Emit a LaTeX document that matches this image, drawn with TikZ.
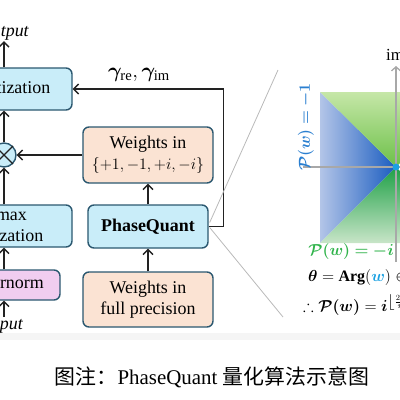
\RequirePackage{fix-cm}
\documentclass[tikz,border=0pt]{standalone}
\usepackage{amsmath,amssymb}
\usepackage{bm}
\usepackage{fontspec}
\setmainfont{Liberation Serif}
\newfontfamily\cjk{Noto Sans CJK SC}
\usetikzlibrary{arrows.meta,calc}
\definecolor{bdr}{HTML}{2B5870}
\definecolor{lblue}{HTML}{C9EDF9}
\definecolor{lorange}{HTML}{FBE3D3}
\definecolor{lpink}{HTML}{F1CDF0}
\definecolor{arrc}{HTML}{222222}
\definecolor{pblue}{HTML}{2A7FD0}
\definecolor{pgreen}{HTML}{2FB34A}
\definecolor{wblue}{HTML}{1BA1E2}
\definecolor{blA}{HTML}{B3C5E8}
\definecolor{blB}{HTML}{1A5CC0}
\definecolor{gA}{HTML}{C6E7A8}
\definecolor{gB}{HTML}{6CC048}
\definecolor{gC}{HTML}{1EA046}
\definecolor{gD}{HTML}{C8E5C8}
\definecolor{axc}{HTML}{A8A8A8}
\newcommand\boxfont{\fontsize{18}{21}\selectfont}
\newcommand\lblfont{\fontsize{16}{19}\selectfont}
\begin{document}
\begin{tikzpicture}[x=1bp,y=-1bp,
  box/.style={draw=bdr, line width=1.4bp, rounded corners=6bp, align=center, inner sep=0pt, font=\boxfont},
  bluebox/.style={box, fill=lblue},
  orbox/.style={box, fill=lorange},
  pinkbox/.style={box, fill=lpink},
  arr/.style={draw=arrc, line width=1.4bp, -{Straight Barb[length=5bp,width=10bp,line width=1.4bp]}},
  zoomline/.style={draw=axc!80, line width=0.8bp},
  axisline/.style={draw=axc, line width=1.5bp},
  lbl/.style={inner sep=1bp, font=\lblfont}]
\useasboundingbox (0,0) rectangle (400,400);
\fill[black!4] (0,333) rectangle (400,340);
% left column
\node[bluebox, minimum width=136bp, minimum height=42bp] (quant) at (4,89) {Quantization};
\node[circle, draw=bdr, fill=lblue, line width=1.4bp, minimum size=24bp, inner sep=0pt] (ot) at (4,155) {};
\draw[draw=arrc, line width=1.3bp] (ot.45) -- (ot.225) (ot.135) -- (ot.315);
\node[bluebox, minimum width=150bp, minimum height=42bp] (absq) at (-3,226) {Absmax\\Quantization};
\node[pinkbox, minimum width=112bp, minimum height=30bp] (ln) at (4,285) {Layernorm};
\node[lbl, font=\boxfont] (out) at (4,32) {\textit{Output}};
\node[lbl, font=\boxfont] (in) at (4,326) {\textit{Input}};
% middle column
\node[orbox, minimum width=130bp, minimum height=56bp] (wset) at (148,155) {Weights in\\{\fontsize{16}{19}\selectfont$\{+1,-1,+i,-i\}$}};
\node[bluebox, minimum width=120bp, minimum height=43bp] (pq) at (148,226.5) {\textbf{PhaseQuant}};
\node[orbox, minimum width=130bp, minimum height=55bp] (wfp) at (148,299.5) {Weights in\\full precision};
\node[lbl, font=\fontsize{21}{24}\selectfont] (gam) at (139,75) {$\bm{\gamma}_{\mathrm{re}},\bm{\gamma}_{\mathrm{im}}$};
% arrows
\draw[arr] (in.north) -- (ln.south);
\draw[arr] (ln.north) -- (ln.north |- absq.south);
\draw[arr] (ot.south |- absq.north) -- (ot.south);
\draw[arr] (ot.north) -- (quant.south);
\draw[arr] (quant.north) -- (out.south);
\draw[arr] (wset.west) -- (ot.east);
\draw[arr] (wfp.north) -- (pq.south);
\draw[arr] (pq.north) -- (wset.south);
\draw[arr] (pq.east) -- ++(15,0) |- (quant.east);
% zoom lines
\coordinate (zu) at (278,70);
\coordinate (zd) at (283,317);
\draw[zoomline] ($(pq.east)+(1,-4)$) -- (zu);
\draw[zoomline] ($(pq.east)+(1,1)$) -- (zd);
% plot
\shade[left color=blA, right color=blB] (320,92) -- (396,167) -- (320,243) -- cycle;
\shade[top color=gA, bottom color=gB] (320,92) -- (472,92) -- (396,167) -- cycle;
\shade[top color=gC, bottom color=gD] (396,167) -- (472,243) -- (320,243) -- cycle;
\draw[axisline] (303,167) -- (410,167);
\draw[axisline, -{Straight Barb[length=4bp,width=9bp,line width=1.3bp]}] (396,262) -- (396,66);
\fill[wblue] (396,167) circle (3.5);
\node[lbl, font=\fontsize{17}{20}\selectfont] (im) at (395,55) {im};
\node[lbl, rotate=90, text=pblue] (pm1) at (306,127) {$\bm{\mathcal{P}(w) = -1}$};
\node[lbl, text=pgreen] (pmi) at (351,252) {$\bm{\mathcal{P}(w) = -i}$};
\node[lbl, anchor=west] (arg) at (307,278) {$\bm{\theta} = \mathbf{Arg}(\textcolor{wblue}{\bm{w}}) \in [-\pi,\pi)$};
\node[lbl, anchor=west] (pf) at (302,305) {$\therefore \bm{\mathcal{P}(w)} = \bm{i}^{\left\lfloor \frac{2\bm{\theta}}{\bm{\pi}} \right\rceil}$};
% caption
\node[inner sep=0pt, font=\fontsize{21}{24}\selectfont] (cap) at (212,377) {{\cjk 图注：}PhaseQuant {\cjk 量化算法示意图}};
\end{tikzpicture}
\end{document}
